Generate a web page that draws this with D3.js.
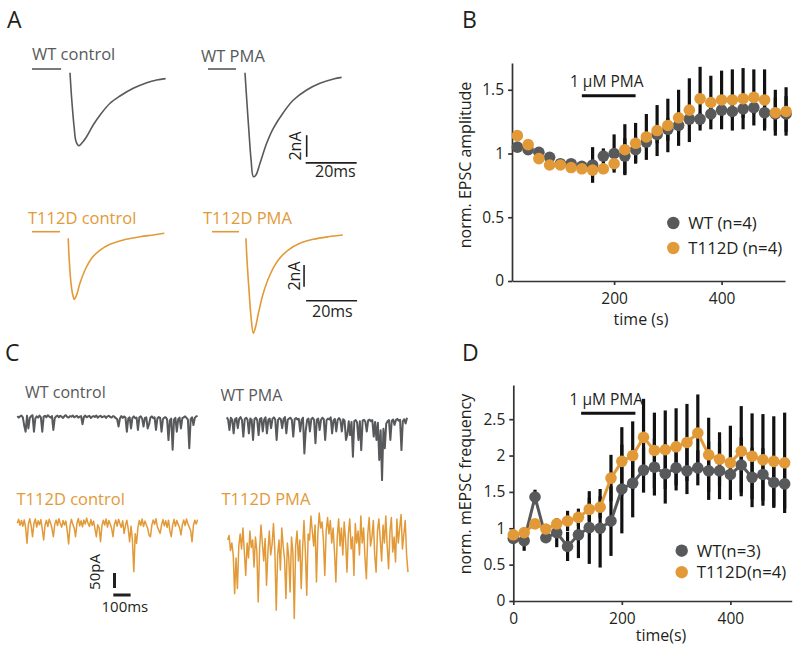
<!DOCTYPE html>
<html><head><meta charset="utf-8">
<script src="https://cdn.jsdelivr.net/npm/d3@7"></script>
<style>body{margin:0;background:#fff} text{font-family:"Open Sans",sans-serif}</style>
</head><body><svg id="c" width="793" height="650"></svg>
<script>
// ---------------- DATA ----------------
// Panel A: evoked EPSC traces (time in ms, current in nA)
const wtCtrlT = [14.9,15.6,16.5,17.3,18.4,19.5,21.4,24.0,26.7,30.6,34.5,39.7,45.0,48.9,52.4];
const wtCtrlI = [-0.34,-2.86,-5.3,-6.7,-7.07,-6.85,-6.24,-5.16,-4.24,-3.16,-2.49,-1.78,-1.26,-1.01,-0.89];
const wtPmaT = [14.5,15.2,16.1,16.9,17.8,18.8,20.4,23.0,25.6,29.5,33.5,38.7,43.9,49.2,52.4];
const wtPmaI = [-0.34,-2.86,-5.93,-8.39,-9.93,-9.77,-8.69,-6.85,-5.47,-4.03,-2.86,-1.94,-1.32,-0.92,-0.77];
const tdCtrlT = [14.2,14.6,15.3,16.0,16.6,17.5,18.8,20.8,23.4,26.7,30.6,35.8,42.4,47.6,51.9];
const tdCtrlI = [-0.61,-2.61,-4.76,-5.83,-6.23,-5.83,-4.76,-3.53,-2.45,-1.69,-1.16,-0.76,-0.46,-0.30,-0.15];
const tdPmaT = [13.3,13.8,14.6,15.3,16.2,17.1,18.2,20.1,22.7,26.0,29.9,34.5,39.7,45.6,51.3];
const tdPmaI = [-0.61,-2.91,-5.68,-7.83,-9.36,-8.76,-7.52,-5.68,-3.99,-2.61,-1.69,-1.07,-0.70,-0.46,-0.30];
const baselineEnd = [11.4, 11.0, 11.0, 10.6]; // ms, end of pre-stimulus baseline
const epscLabels = ["WT control","WT PMA","T112D control","T112D PMA"];

// Panel C: mEPSC traces (pA, sampled every 8 ms)
const miniDt = 8;
const miniWTctrl = [2,-3,1,4,-2,-30,-50,3,-39,-4, 2,5,-50,-6,1,-3,4,-2,-50,0, 3,-2,5,1,-3,2,-44,-5,1,4,
 -2,3,0,-4,2,5,-1,-3,2,0, 4,-2,1,3,-3,0,2,-25,-1,4, -2,1,3,-4,0,2,-1,4,-3,1, 3,-2,0,2,-4,1,3,-1,-3,2,
 0,-5,-8,-33,-6,2,-4,1,-3,-50, -6,-2,-39,-4,1,-5,-3,-44,-2,1, -6,-33,-4,-2,-39,-25,-3,1,-5,-2,
 -44,-6,-1,-4,-50,-8,-3,-2,-9,-78, -12,-6,-110,-10,-4,-50,-8,-3,-39,-5, -2,1,-4,-10,-105,-8,-2,-28,-4,1, 3];
const miniWTpma = [3,-4,-39,2,-5,-50,-3,1,-33,-2, 4,-6,-61,-3,2,-4,-50,-1,-5,-72, -3,2,-6,-56,-2,1,-44,-4,3,-50,
 -5,-1,-33,-2,3,-4,-72,-6,1,-3, -33,-2,4,-50,-5,-1,2,-6,-61,-3, 1,-4,-2,-44,-6,2,-117,-40,-5,-1,
 -44,-3,2,-6,-83,-4,-1,-39,-5,2, -3,-72,-6,-1,-4,3,-50,-7,-2,-44, -5,1,-6,-44,-3,-8,-72,-55,-10,-56,
 -12,-128,-9,-6,-14,-72,-10,-106,-8,-5, -12,-44,-7,-4,-10,-6,-61,-12,-72,-15, -139,-40,-206,-35,-100,-18,-10,-6,-72,-8,
 -4,-22,-6,-2,-8,-5,-106,-9,-3,-17, 2];
const miniTDctrl = [-5,8,-12,4,-15,6,-20,-72,-8,10, -14,-50,-6,9,-18,3,-10,7,-25,-61, -12,5,-16,8,-4,-22,-50,-9,6,-13,
 10,-7,-18,4,-11,2,-30,-74,-15,8, -9,-20,-50,-6,11,-14,3,-17,6,-8, 12,-5,-16,7,-12,2,-24,-50,-10,-20,
 -67,-14,5,-11,9,-18,4,-8,-22,-50, -10,6,-15,8,-6,-19,3,-39,-12,5, -25,-67,-15,-60,-167,-40,-72,-18,4,-13,
 9,-16,2,-10,-22,-45,-50,-12,6,-9, 10,-17,-28,-39,-11,7,-14,3,-19,5, -30,-50,-12,8,-15,4,-9,-20,-44,-10,
 6,-13,9,-7,-18,-30,-67,-12,5,-8, 7];
const miniTDpma = [-60,-45,-95,-70,-110,-239,-120,-222,-80,-40, -90,-20,-100,-178,-70,-120,-30,-85,-60,-150,
 -50,-95,-267,-90,-10,-70,-130,-55,-211,-100, -30,-110,-75,-5,-95,-294,-110,-60,-160,-20,
 -80,-125,-255,-70,-115,-233,-50,-100,-322,-80, -30,-130,-60,-222,-90,5,-100,-244,-40,-60,
 20,-30,-80,-10,-200,-40,30,-20,0,-60, -178,-30,15,-40,5,-70,-20,-100,-200,-50,
 10,-80,-20,-110,0,-60,-167,-40,10,-90, -50,-178,-5,-70,-30,-110,20,-70,-20,-120,
 -189,-40,15,-80,-50,5,-110,-167,-30,10, -60,-130,-10,-70,20,-80,-156,-30,15,-100,
 -50,-133,10,-70,-20,25,-90,-40,5,-110, -167];

// Panel B: normalized EPSC amplitude
const timeB = [20,40,60,80,100,120,140,160,180,200,220,240,260,280,300,320,340,360,380,400,420,440,460,480,500,520];
const wtB = [1.05,1.03,1.01,0.97,0.92,0.92,0.90,0.91,0.98,1.00,0.98,1.03,1.09,1.15,1.19,1.22,1.27,1.27,1.31,1.34,1.33,1.35,1.36,1.32,1.31,1.31];
const wtErrB = [0.03,0.03,0.03,0.03,0.03,0.03,0.04,0.14,0.06,0.15,0.14,0.10,0.05,0.07,0.09,0.06,0.05,0.05,0.05,0.05,0.05,0.07,0.05,0.12,0.13,0.14];
const tdB = [1.14,1.07,0.96,0.91,0.91,0.89,0.88,0.87,0.88,0.92,1.03,1.08,1.13,1.18,1.22,1.28,1.34,1.43,1.40,1.42,1.42,1.43,1.44,1.42,1.32,1.33];
const tdErrB = [0.03,0.03,0.03,0.03,0.03,0.03,0.03,0.04,0.04,0.05,0.20,0.16,0.18,0.20,0.21,0.22,0.25,0.25,0.21,0.23,0.24,0.24,0.22,0.24,0.18,0.19];
const pmaB = [140, 240];
const legendB = ["WT (n=4)", "T112D (n=4)"];

// Panel D: normalized mEPSC frequency
const timeD = [0,20,40,60,80,100,120,140,160,180,200,220,240,260,280,300,320,340,360,380,400,420,440,460,480,500];
const wtD = [0.86,0.83,1.43,0.87,0.94,0.75,0.91,1.01,1.00,1.10,1.54,1.62,1.80,1.84,1.75,1.83,1.79,1.83,1.79,1.79,1.74,1.87,1.70,1.74,1.63,1.61];
const wtErrD = [0.03,0.14,0.10,0.03,0.20,0.20,0.32,0.50,0.54,0.48,0.61,0.47,0.31,0.39,0.41,0.31,0.32,0.24,0.40,0.39,0.08,0.38,0.41,0.36,0.35,0.34];
const tdD = [0.91,0.94,1.06,0.99,1.06,1.10,1.15,1.26,1.29,1.69,1.92,2.00,2.25,2.07,2.08,2.12,2.18,2.31,2.01,1.95,1.90,2.06,1.99,1.94,1.92,1.90];
const tdErrD = [0.03,0.03,0.05,0.05,0.05,0.14,0.12,0.16,0.15,0.32,0.47,0.47,0.53,0.52,0.54,0.53,0.53,0.53,0.51,0.37,0.51,0.62,0.59,0.63,0.62,0.69];
const pmaD = [125, 225];
const legendD = ["WT(n=3)", "T112D(n=4)"];

// ---------------- DRAWING ----------------
const gray = "#58595b", orange = "#e29a38", ink = "#231f20";
const svg = d3.select("#c");
const FONT = '"Open Sans", sans-serif';

function txt(x, y, s, size, color, anchor, rot) {
  const t = svg.append("text").attr("font-size", size).attr("fill", color || ink)
    .attr("text-anchor", anchor || "start").text(s);
  if (rot) t.attr("transform", `translate(${x},${y}) rotate(${rot})`);
  else t.attr("x", x).attr("y", y);
  return t;
}

// Panel labels
txt(7, 28, "A", 23); txt(462, 28, "B", 23);
txt(5, 361, "C", 23); txt(462, 361, "D", 23);

// ---- Panel A ----
function drawEPSC(t, I, baseEnd, x0, y0, color) {
  const xs = d3.scaleLinear().domain([0, 60]).range([x0, x0 + 153]);
  const ys = d3.scaleLinear().domain([0, -10]).range([y0, y0 + 108.5]);
  svg.append("line").attr("x1", xs(0)).attr("x2", xs(baseEnd)).attr("y1", ys(0)).attr("y2", ys(0))
    .attr("stroke", color).attr("stroke-width", 1.6);
  const line = d3.line().x((d, i) => xs(t[i])).y(d => ys(d)).curve(d3.curveCatmullRom);
  svg.append("path").attr("d", line(I)).attr("fill", "none").attr("stroke", color).attr("stroke-width", 1.6);
  return { xs, ys };
}
drawEPSC(wtCtrlT, wtCtrlI, baselineEnd[0], 32, 69, gray);
const sA1 = drawEPSC(wtPmaT, wtPmaI, baselineEnd[1], 208, 69, gray);
drawEPSC(tdCtrlT, tdCtrlI, baselineEnd[2], 32, 231.7, orange);
const sA2 = drawEPSC(tdPmaT, tdPmaI, baselineEnd[3], 212, 231.7, orange);
txt(32, 60, epscLabels[0], 16.5, gray);
txt(201, 62, epscLabels[1], 16.5, gray);
txt(28, 224, epscLabels[2], 16.5, orange);
txt(203, 224, epscLabels[3], 16.5, orange);

function scaleBarA(s, tv, i0, i1, th0, ih) {
  svg.append("line").attr("x1", s.xs(tv)).attr("x2", s.xs(tv)).attr("y1", s.ys(i0)).attr("y2", s.ys(i1))
    .attr("stroke", ink).attr("stroke-width", 1.6);
  svg.append("line").attr("x1", s.xs(th0)).attr("x2", s.xs(th0 + 20)).attr("y1", s.ys(ih)).attr("y2", s.ys(ih))
    .attr("stroke", ink).attr("stroke-width", 1.6);
}
scaleBarA(sA1, 38.7, -6.1, -8.1, 38.3, -8.65);
txt(301, 146, "2nA", 16, ink, "middle", -90);
txt(315, 177, "20ms", 16, ink);
scaleBarA(sA2, 36.1, -3.07, -5.07, 36.9, -6.36);
txt(300, 276, "2nA", 16, ink, "middle", -90);
txt(312, 316.5, "20ms", 16, ink);

// ---- Panel C ----
function drawMini(vals, x0, y0, color, w) {
  const xs = d3.scaleLinear().domain([0, 1040]).range([x0, x0 + 180.3]);
  const ys = d3.scaleLinear().domain([0, -100]).range([y0, y0 + 30]);
  const line = d3.line().x((d, i) => xs(i * miniDt)).y(d => ys(d));
  svg.append("path").attr("d", line(vals)).attr("fill", "none").attr("stroke", color)
    .attr("stroke-width", w).attr("stroke-linejoin", "round");
  return { xs, ys };
}
drawMini(miniWTctrl, 17.3, 416.7, gray, 2);
drawMini(miniWTpma, 226.7, 418.3, gray, 2);
drawMini(miniTDctrl, 17.3, 521.7, orange, 1.5);
drawMini(miniTDpma, 227.7, 522, orange, 1.5);
txt(25, 398, "WT control", 16, gray);
txt(220.5, 401, "WT PMA", 16, gray);
txt(16.5, 505, "T112D control", 16.5, orange);
txt(221.5, 505, "T112D PMA", 16.5, orange);
// scale bars 50 pA / 100 ms
{
  const xs = d3.scaleLinear().domain([0, 100]).range([113.3, 130.6]);
  const ys = d3.scaleLinear().domain([0, 50]).range([588, 573]);
  svg.append("line").attr("x1", xs(0) + 1.2).attr("x2", xs(0) + 1.2).attr("y1", ys(0)).attr("y2", ys(50))
    .attr("stroke", ink).attr("stroke-width", 3);
  svg.append("line").attr("x1", xs(0)).attr("x2", xs(100)).attr("y1", 595).attr("y2", 595)
    .attr("stroke", ink).attr("stroke-width", 3);
}
txt(100, 572, "50pA", 15, ink, "middle", -90);
txt(101.5, 611.5, "100ms", 15, ink);

// ---- time course panels ----
function panel(cfg) {
  const x = d3.scaleLinear().domain(cfg.xd).range(cfg.xr);
  const y = d3.scaleLinear().domain(cfg.yd).range(cfg.yr);
  const g = svg.append("g");
  const ax = g.append("g").attr("transform", `translate(0,${cfg.yr[0]})`)
    .call(d3.axisBottom(x).tickValues(cfg.xt).tickSize(4).tickSizeOuter(0).tickPadding(8).tickFormat(d3.format("d")));
  const ay = g.append("g").attr("transform", `translate(${cfg.xr[0]},0)`)
    .call(d3.axisLeft(y).tickValues(cfg.yt).tickSize(4).tickSizeOuter(0).tickPadding(4).tickFormat(d3.format("~g")));
  [ax, ay].forEach(a => {
    a.selectAll("path,line").attr("stroke", "#333").attr("stroke-width", 1.7);
    a.selectAll("text").attr("font-size", 15.5).attr("fill", ink).attr("font-family", FONT);
  });
  // error bars
  cfg.series.forEach(s => {
    g.append("g").selectAll("line").data(s.v).join("line")
      .attr("x1", (d, i) => x(cfg.t[i])).attr("x2", (d, i) => x(cfg.t[i]))
      .attr("y1", (d, i) => y(d + s.e[i])).attr("y2", (d, i) => y(d - s.e[i]))
      .attr("stroke", "#111").attr("stroke-width", 3.2);
  });
  cfg.series.forEach(s => {
    if (cfg.lines) {
      g.append("path").attr("d", d3.line().x((d, i) => x(cfg.t[i])).y(d => y(d))(s.v))
        .attr("fill", "none").attr("stroke", s.c).attr("stroke-width", 3);
    }
    g.append("g").selectAll("circle").data(s.v).join("circle")
      .attr("cx", (d, i) => x(cfg.t[i])).attr("cy", d => y(d)).attr("r", 5.8).attr("fill", s.c);
  });
  // PMA bar
  g.append("line").attr("x1", x(cfg.pma[0])).attr("x2", x(cfg.pma[1]))
    .attr("y1", cfg.pmaY).attr("y2", cfg.pmaY).attr("stroke", "#111").attr("stroke-width", 3);
  txt((x(cfg.pma[0]) + x(cfg.pma[1])) / 2 - 2, cfg.pmaY - 8.5, "1 \u03bcM PMA", 15.5, ink, "middle");
  // legend
  cfg.series.forEach((s, k) => {
    g.append("circle").attr("cx", cfg.leg[0]).attr("cy", cfg.leg[1] + k * cfg.leg[2]).attr("r", 6.2).attr("fill", s.c);
    txt(cfg.leg[0] + 15, cfg.leg[1] + k * cfg.leg[2] + 5.8, cfg.legend[k], 16.8, ink);
  });
  txt(cfg.ylab[0], cfg.ylab[1], cfg.ylab[2], 16, ink, "middle", -90);
  txt(cfg.xlab[0], cfg.xlab[1], cfg.xlab[2], 16, ink, "middle");
}

panel({
  t: timeB, xd: [10, 518], xr: [512, 785], yd: [0, 1.71], yr: [281, 63],
  xt: [200, 400], yt: [0, 0.5, 1, 1.5], lines: false,
  series: [{ v: wtB, e: wtErrB, c: gray }, { v: tdB, e: tdErrB, c: orange }],
  pma: pmaB, pmaY: 95.7, leg: [673.3, 223, 25], legend: legendB,
  ylab: [471, 165, "norm. EPSC amplitude"], xlab: [641, 325, "time (s)"]
});
panel({
  t: timeD, xd: [0, 513], xr: [513.3, 791.7], yd: [0, 2.97], yr: [601, 385],
  xt: [0, 200, 400], yt: [0, 0.5, 1, 1.5, 2, 2.5], lines: true,
  series: [{ v: wtD, e: wtErrD, c: gray }, { v: tdD, e: tdErrD, c: orange }],
  pma: pmaD, pmaY: 413.3, leg: [681.7, 550.7, 21.5], legend: legendD,
  ylab: [471, 484, "norm. mEPSC frequency"], xlab: [661, 641, "time(s)"]
});
</script></body></html>
